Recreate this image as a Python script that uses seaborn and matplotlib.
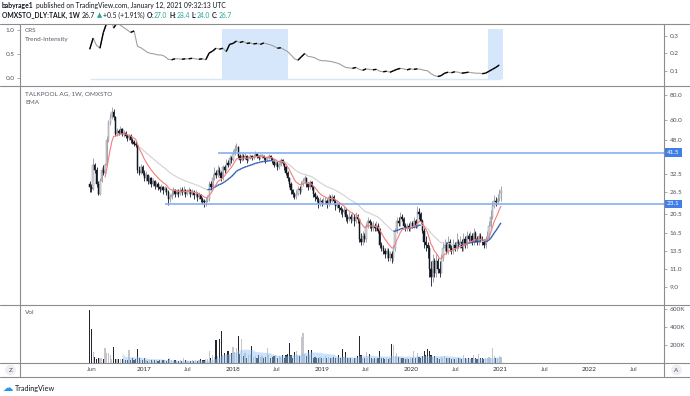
import matplotlib
matplotlib.use("Agg")
import matplotlib.pyplot as plt
import matplotlib.dates as mdates
from matplotlib.collections import LineCollection
from matplotlib.lines import Line2D
from matplotlib.ticker import NullLocator
import seaborn as sns
import pandas as pd
import numpy as np

W, H = 690, 396

# weekly bars, TALKPOOL AG (OMXSTO), first bar week of 2016-05-23
first_week = "2016-05-23"
first_open = 29.0
closes = [28, 27.5, 36, 34, 29, 26, 30, 34, 33, 36,
          48, 58, 62, 66, 62, 51, 53, 52, 54, 51,
          52, 50, 49, 50, 48, 47, 46, 45, 34, 33,
          35, 33, 31, 32, 30, 31, 29, 30, 28.5, 29,
          28, 27.5, 28, 27, 27.5, 26.5, 24.5, 25, 26, 27,
          26, 26.5, 26, 27, 26.5, 27, 26, 26.5, 27, 26,
          26.5, 25.5, 26, 25, 25.5, 24.5, 24, 23.5, 24, 24.5,
          29, 28, 31, 33, 32, 34, 33, 31, 35, 34,
          37, 36, 39, 38, 41, 43, 44, 40, 38, 40,
          39, 40, 38, 39, 40, 39, 40, 41, 40, 39,
          40, 40, 39, 38, 39, 40, 39, 38, 36, 37,
          35, 36, 38, 37, 35, 33, 31, 29, 27, 26,
          25, 26, 27.5, 27, 29, 30, 31, 29, 28, 29.5,
          28, 26, 25, 24.5, 23, 24, 23.5, 24, 24, 23,
          25, 24, 25, 24, 22.5, 23, 22, 21.5, 21, 21.5,
          20, 19.5, 20, 19.5, 20, 19, 20, 19.5, 15.5, 15,
          16, 15.5, 18, 19, 18.5, 17.5, 18, 17.5, 18, 17,
          14.5, 14, 13.5, 13, 13.5, 12.5, 13, 12.5, 14, 17,
          19, 18.5, 20, 19.5, 18, 17.5, 18, 17.5, 18.5, 18,
          19, 18, 21, 20.5, 19, 17, 15, 14.5, 14, 11,
          10, 12, 10.5, 12, 11, 10.5, 12.5, 14, 14.5, 13.5,
          15, 14, 13.5, 14.5, 14, 15, 14.5, 15, 14, 15.5,
          14.5, 16, 15.5, 16, 15, 16.5, 15.5, 15, 16, 15.5,
          15, 14.5, 15.5, 16, 18, 20, 22.5, 24, 23.5, 24.5,
          26.2, 26.7]
highs = [30, 29, 39, 37, 35, 30, 31, 35, 36, 37,
         50, 60, 65, 70, 68, 63, 55, 54, 56, 55,
         53.5, 53, 51, 51.5, 51, 49, 48, 47.5, 46, 35.5,
         36.5, 36, 34, 33.5, 32.5, 32, 31.5, 31, 30.5, 30,
         29.5, 28.5, 29, 28.5, 28.5, 28, 27, 26, 27, 28,
         27.5, 27.5, 27.5, 28, 28, 28.5, 27.5, 27.5, 28, 27.5,
         27.5, 27, 27, 26.5, 26.5, 26, 25, 24.5, 25, 25.5,
         30, 30, 32.5, 35, 34, 36, 35, 33.5, 36, 36,
         38.5, 38, 40.5, 40, 42.5, 45, 46.5, 44.5, 41, 41.5,
         41, 41.5, 40.5, 40, 41, 40.5, 41, 42, 41.5, 40.5,
         41, 41, 40.5, 39.5, 40, 41, 40.5, 39.5, 38.5, 38,
         37.5, 37, 39, 38.5, 37.5, 35.5, 33.5, 31.5, 29.5, 27.5,
         26.5, 27, 28.5, 28.5, 30, 31, 32, 31.5, 29.5, 30.5,
         30, 28.5, 26.5, 25.5, 25, 25, 24.5, 25, 25, 24.5,
         26, 25.5, 26, 25.5, 24.5, 24, 23.5, 22.5, 22, 22.5,
         22, 20.5, 21, 20.5, 21, 20.5, 21, 20.5, 19.5, 16.5,
         17, 16.5, 18.5, 20, 19.5, 19, 19, 18.5, 19, 18.5,
         17.5, 15, 14.5, 14, 14, 14, 13.5, 13.5, 14.5, 17.5,
         20, 20, 21, 20.5, 20, 18.5, 18.5, 18.5, 19, 19,
         20, 19.5, 22.5, 22, 21, 19.5, 17.5, 16, 15, 14.5,
         12, 13, 12.5, 13, 12.5, 12, 13, 15, 15.5, 15,
         16, 15.5, 14.5, 15.5, 15, 16.5, 15.5, 16, 15.5, 16.5,
         16, 17, 16.5, 17, 16.5, 17.5, 17, 16, 16.5, 16.5,
         16, 15.5, 16, 17, 19, 21.5, 24, 25.5, 25, 26,
         27.5, 28.4]
lows = [26.5, 26.5, 27, 33, 28, 25.5, 25.5, 29.5, 32, 32.5,
        35.5, 47, 57, 61, 60, 50, 50, 50.5, 51, 50,
        49.5, 49, 47.5, 48, 46.5, 45.5, 44.5, 44, 33, 32,
        32.5, 32, 30, 30, 29, 29.5, 28, 28.5, 27.5, 28,
        27, 26.5, 27, 26, 26.5, 25.5, 22.7, 23.5, 24.5, 25.5,
        25, 25.5, 25, 25.5, 25.5, 26, 25, 25.5, 26, 25,
        25.5, 24.5, 25, 24, 24.5, 23.5, 23, 22.3, 22.5, 23.5,
        24, 27, 27.5, 30.5, 31, 31.5, 32, 30, 30.5, 33,
        33.5, 35, 35.5, 37, 37.5, 40.5, 42, 39, 37, 37.5,
        38, 38.5, 37, 37.5, 38.5, 38, 38.5, 39.5, 39, 38,
        38.5, 39, 38, 37, 37.5, 38.5, 38, 37, 35, 35.5,
        34, 34.5, 35.5, 36, 34, 32, 30, 28, 26, 25,
        24.5, 24.5, 25.5, 26, 26.5, 28.5, 29.5, 28, 27, 27.5,
        27, 25, 24, 23.5, 22, 22.5, 22.5, 23, 23, 22,
        22.5, 23, 23.5, 23, 21.5, 22, 21, 20.5, 20, 20.5,
        19, 18.5, 19, 18.5, 19, 18, 18.5, 18.5, 15, 14.5,
        14.5, 15, 15, 17.5, 17.5, 17, 17, 17, 17, 16.5,
        14, 13.5, 13, 12.5, 12.5, 12, 12, 11.8, 12, 13.5,
        16.5, 18, 18, 19, 17.5, 17, 17, 17, 17, 17.5,
        17.5, 17.5, 17.5, 19.5, 18.5, 16.5, 14, 13.5, 12.5, 10,
        9.1, 9.5, 10, 10, 10.5, 10, 10.5, 12, 13.5, 13,
        13, 13.5, 13, 13, 13.5, 13.5, 14, 14, 13.5, 13.5,
        14, 14, 15, 15, 14.5, 14.5, 15, 14.5, 14.5, 15,
        14.5, 14, 14, 15, 15.5, 17.5, 19.5, 22, 22.5, 23,
        24, 24.0]
volume_k = [585, 377, 125, 70, 45, 50, 50, 60, 40, 170,
            115, 115, 90, 40, 180, 40, 40, 40, 40, 40,
            40, 35, 30, 140, 35, 60, 30, 40, 150, 60,
            35, 30, 60, 30, 25, 35, 30, 25, 30, 35,
            25, 30, 25, 35, 30, 25, 40, 60, 30, 25,
            30, 25, 20, 30, 25, 60, 30, 25, 20, 25,
            30, 25, 35, 25, 30, 40, 35, 30, 40, 45,
            130, 60, 90, 70, 260, 80, 270, 355, 90, 110,
            100, 130, 90, 110, 180, 120, 170, 295, 100, 270,
            80, 110, 60, 90, 100, 190, 70, 80, 60, 90,
            70, 80, 60, 70, 170, 90, 60, 70, 80, 90,
            60, 80, 70, 90, 60, 90, 100, 225, 90, 60,
            120, 130, 90, 80, 290, 337, 100, 80, 140, 90,
            140, 60, 70, 50, 60, 70, 50, 60, 80, 50,
            70, 60, 50, 70, 60, 50, 90, 60, 150, 70,
            125, 60, 50, 60, 45, 50, 60, 80, 300, 90,
            60, 50, 120, 60, 100, 50, 40, 50, 45, 60,
            137, 60, 50, 40, 60, 45, 50, 213, 195, 80,
            115, 70, 60, 50, 60, 45, 50, 40, 60, 50,
            137, 60, 115, 70, 60, 80, 130, 90, 150, 130,
            90, 70, 80, 60, 50, 40, 70, 60, 80, 50,
            60, 50, 40, 50, 45, 40, 50, 60, 45, 90,
            50, 40, 60, 45, 50, 85, 50, 40, 100, 60,
            50, 40, 60, 50, 70, 60, 170, 80, 60, 50,
            80, 70]
# CRS trend intensity, one value every second week
crs = [0.60, 0.83, 0.68, 0.62, 0.95, 1.15, 1.30, 1.04, 1.15, 1.10,
       1.05, 1.00, 0.95, 0.98, 0.66, 0.63, 0.58, 0.53, 0.51, 0.50,
       0.48, 0.48, 0.45, 0.39, 0.38, 0.40, 0.40, 0.39, 0.40, 0.40,
       0.41, 0.40, 0.39, 0.40, 0.38, 0.52, 0.56, 0.62, 0.60, 0.62,
       0.55, 0.70, 0.72, 0.77, 0.74, 0.76, 0.72, 0.73, 0.71, 0.72,
       0.70, 0.73, 0.71, 0.69, 0.66, 0.62, 0.63, 0.59, 0.55, 0.48,
       0.40, 0.37, 0.44, 0.51, 0.45, 0.44, 0.42, 0.38, 0.36, 0.36,
       0.35, 0.34, 0.32, 0.30, 0.26, 0.22, 0.21, 0.20, 0.22, 0.18,
       0.16, 0.19, 0.18, 0.17, 0.18, 0.14, 0.13, 0.14, 0.12, 0.15,
       0.18, 0.20, 0.19, 0.17, 0.19, 0.18, 0.19, 0.18, 0.16, 0.15,
       0.09, 0.05, 0.03, 0.05, 0.10, 0.12, 0.11, 0.13, 0.12, 0.10,
       0.11, 0.12, 0.11, 0.10, 0.10, 0.09, 0.10, 0.14, 0.18, 0.22,
       0.27]
trend_zones = [("2017-11-17", "2018-08-15"), ("2020-11-13", "2021-01-11")]
levels = [41.5, 23.1]
level_starts = ["2017-10-31", "2017-03-28"]
price_ticks = [80.0, 60.0, 48.0, 32.5, 26.5, 20.5, 16.5, 13.5, 11.0, 9.0]
crs_left_ticks = [0.0, 0.5, 1.0]
crs_right_ticks = [0.1, 0.2, 0.3]
vol_ticks = [200, 400, 600]
month_ticks = ["2016-06-01", "2017-01-01", "2017-07-01", "2018-01-01", "2018-07-01",
               "2019-01-01", "2019-07-01", "2020-01-01", "2020-07-01", "2021-01-01",
               "2021-07-01", "2022-01-01", "2022-07-01"]
month_labels = ["Jun", "2017", "Jul", "2018", "Jul", "2019", "Jul", "2020", "Jul",
                "2021", "Jul", "2022", "Jul"]

assert len(closes) == len(highs) == len(lows) == len(volume_k), (len(closes), len(highs), len(lows), len(volume_k))


def ema(vals, n):
    out = np.full(len(vals), np.nan)
    out[n - 1] = np.mean(vals[:n])
    a = 2.0 / (n + 1)
    for i in range(n, len(vals)):
        out[i] = a * vals[i] + (1 - a) * out[i - 1]
    return out


def px_rect(x0, y0, x1, y1):
    return [x0 / W, 1 - y1 / H, (x1 - x0) / W, (y1 - y0) / H]


dates = pd.date_range(first_week, periods=len(closes), freq="7D")
x = mdates.date2num(dates)
c = np.array(closes, float)
o = np.array([first_open] + closes[:-1], float)
hi = np.array(highs, float)
lo = np.array(lows, float)
vol = np.array(volume_k, float) * 1000
up = c >= o

sns.set_theme(style="white")
plt.rcParams["font.family"] = ["Lato", "DejaVu Sans"]
FS = 4.6
TXT = "#4c525e"

fig = plt.figure(figsize=(W / 100, H / 100), dpi=100)
fig.patch.set_facecolor("white")
ax_top = fig.add_axes(px_rect(20, 24, 664, 86))
ax_main = fig.add_axes(px_rect(20, 86, 664, 305))
ax_vol = fig.add_axes(px_rect(20, 305, 664, 363))

xmin = mdates.date2num(pd.Timestamp("2015-08-11"))
xmax = mdates.date2num(pd.Timestamp("2022-11-04"))

# ---- top: CRS trend intensity
for a, b in trend_zones:
    ax_top.fill_between(mdates.date2num(pd.to_datetime([a, b])), -0.02, 1.02,
                        color="#d6e7fb", lw=0, zorder=1)
ax_top.hlines(-0.02, x[0], x[-1], color="#d6e7fb", lw=1, zorder=1)
crs_x = x[::2][:len(crs)]
crs_df = pd.DataFrame({"date": dates[::2][:len(crs)], "crs": crs})
sns.lineplot(data=crs_df, x="date", y="crs", ax=ax_top, color="#a0a0a0", lw=0.8, zorder=2)
crs_a = np.array(crs)
segs = [[(crs_x[i], crs_a[i]), (crs_x[i + 1], crs_a[i + 1])]
        for i in range(len(crs_a) - 1) if crs_a[i + 1] > crs_a[i]]
ax_top.add_collection(LineCollection(segs, colors="black", linewidths=1.0, zorder=3))
ax_top.set_ylim(-0.167, 1.125)
ax_top.set_yticks(crs_left_ticks)
ax_top.set_yticklabels([f"{v:.1f}" for v in crs_left_ticks])
ax_top.tick_params(axis="y", left=True, length=2.5, width=0.5, color="#888", pad=1.5,
                   labelsize=FS, labelcolor=TXT)
ax_r = ax_top.twinx()
ax_r.set_ylim(0.015, 0.366)
ax_r.set_yticks(crs_right_ticks)
ax_r.set_yticklabels([f"{v:.1f}" for v in crs_right_ticks])
ax_r.tick_params(axis="y", right=True, length=2.5, width=0.5, color="#888", pad=1.5,
                 labelsize=FS, labelcolor=TXT)

# ---- main: candles + EMAs + levels
ax_main.set_yscale("log")
for m, wc, fc in ((up, "#9598a1", "#d6d8de"), (~up, "#131722", "#131722")):
    ax_main.vlines(x[m], lo[m], hi[m], color=wc, lw=0.6, zorder=2)
    bot = np.minimum(o[m], c[m])
    ht = np.maximum(np.abs(c[m] - o[m]), bot * 0.01)
    ax_main.bar(x[m], ht, bottom=bot, width=5.3, color=fc, edgecolor=wc, lw=0.35, zorder=2)

ema10 = ema(c, 10)
ema30 = ema(c, 30)
sns.lineplot(x=dates[9:], y=ema10[9:], ax=ax_main, color="#f47c7c", lw=0.8, zorder=4)
segs_up, segs_dn = [], []
for i in range(29, len(c) - 1):
    s = [(x[i], ema30[i]), (x[i + 1], ema30[i + 1])]
    (segs_up if ema30[i + 1] > ema30[i] else segs_dn).append(s)
ax_main.add_collection(LineCollection(segs_dn, colors="#cfcfcf", linewidths=0.8, zorder=3))
ax_main.add_collection(LineCollection(segs_up, colors="#2f5fb5", linewidths=1.0, zorder=3))

for lv, st in zip(levels, level_starts):
    ax_main.hlines(lv, mdates.date2num(pd.Timestamp(st)), xmax, color="#86aef2", lw=1.2, zorder=3)
    ax_main.annotate(f"{lv:.1f}", xy=(1, lv), xycoords=("axes fraction", "data"),
                     xytext=(2.2, 0), textcoords="offset points", ha="left", va="center",
                     fontsize=FS, color="white", annotation_clip=False, zorder=6,
                     bbox=dict(boxstyle="square,pad=0.3", fc="#3f7fe6", ec="none"))

ax_main.set_ylim(7.30, 88.6)
ax_main.yaxis.set_minor_locator(NullLocator())
ax_main.set_yticks(price_ticks)
ax_main.set_yticklabels([f"{v:.1f}" for v in price_ticks])
ax_main.yaxis.tick_right()
ax_main.tick_params(axis="y", right=True, left=False, length=2.5, width=0.5, color="#888",
                    pad=1.5, labelsize=FS, labelcolor=TXT)

# ---- volume
ax_vol.bar(x[up], vol[up], width=4.8, color="#c4c6cc", lw=0, zorder=2)
ax_vol.bar(x[~up], vol[~up], width=4.8, color="#22262f", lw=0, zorder=2)
vol_ma = pd.Series(vol).rolling(20).mean().to_numpy()
ax_vol.fill_between(x, 0, vol_ma, color="#8fc0f4", alpha=0.45, lw=0, zorder=3)
ax_vol.set_ylim(0, 644000)
ax_vol.set_yticks([v * 1000 for v in vol_ticks])
ax_vol.set_yticklabels([f"{v}K" for v in vol_ticks])
ax_vol.yaxis.tick_right()
ax_vol.tick_params(axis="y", right=True, left=False, length=2.5, width=0.5, color="#888",
                   pad=1.5, labelsize=FS, labelcolor=TXT)
ax_vol.set_xticks(mdates.date2num(pd.to_datetime(month_ticks)))
ax_vol.set_xticklabels(month_labels)
ax_vol.tick_params(axis="x", bottom=True, length=0, pad=3.2, labelsize=FS, labelcolor=TXT)
for lab in ax_vol.get_xticklabels():
    if lab.get_text().isdigit():
        lab.set_color("#2a2e39")

for ax in (ax_top, ax_r, ax_main, ax_vol):
    ax.set_facecolor("none")
    for sp in ax.spines.values():
        sp.set_visible(False)
    ax.set_xlim(xmin, xmax)
    ax.set_xlabel("")
    ax.set_ylabel("")
    ax.grid(False)
for ax in (ax_top, ax_r, ax_main):
    ax.set_xticks([])

# ---- frame lines
LC = "#8c8c8c"
for yy in (24, 86, 305, 363, 377):
    fig.add_artist(Line2D([0, 1], [1 - yy / H] * 2, transform=fig.transFigure, color=LC, lw=0.8))
for xx in (20, 664):
    fig.add_artist(Line2D([xx / W] * 2, [1 - 24 / H, 1 - 377 / H], transform=fig.transFigure,
                          color=LC, lw=0.8))

# ---- panel captions
def ftxt(xp, yp, s, **kw):
    kw.setdefault("fontsize", FS)
    kw.setdefault("color", "#555a64")
    return fig.text(xp / W, 1 - yp / H, s, va="center", ha="left", **kw)

ftxt(25, 31, "CRS")
ftxt(25, 39.5, "Trend-Intensity")
ftxt(25, 94, "TALKPOOL AG, 1W, OMXSTO")
ftxt(25, 102.5, "EMA")
ftxt(25, 313, "Vol")

for xp, s in ((10.5, "Z"), (676.5, "A")):
    fig.text(xp / W, 1 - 370 / H, s, ha="center", va="center", fontsize=FS, color="#4c525e",
             bbox=dict(boxstyle="circle,pad=0.45", fc="#eceef2", ec="none"))

ftxt(2, 388, "\u2601", fontsize=7.5, color="#2196f3", family=["DejaVu Sans"])
ftxt(15, 388, "TradingView", fontsize=5.2, color="#131722")

# ---- header lines drawn piece by piece
renderer = fig.canvas.get_renderer()


def seq(xp, yp, parts, size=4.9):
    for s, col, wt, gap in parts:
        t = fig.text(xp / W, 1 - yp / H, s, color=col, fontweight=wt, fontsize=size,
                     va="center", ha="left")
        xp += t.get_window_extent(renderer).width + gap


DK = "#131722"
TEAL = "#26a69a"
seq(2, 5.5, [("babyrage1", DK, "bold", 2),
             ("published on TradingView.com, January 12, 2021 09:32:13 UTC", DK, "normal", 0)])
seq(2, 15, [("OMXSTO_DLY:TALK, 1W", DK, "bold", 2),
            ("26.7", DK, "normal", 1.5),
            ("\u25b2", TEAL, "normal", 1.5),
            ("+0.5 (+1.91%)", DK, "normal", 2),
            ("O:", DK, "bold", 0), ("27.0", TEAL, "normal", 2),
            ("H:", DK, "bold", 0), ("28.4", TEAL, "normal", 2),
            ("L:", DK, "bold", 0), ("24.0", TEAL, "normal", 2),
            ("C:", DK, "bold", 0), ("26.7", TEAL, "normal", 0)])

fig.savefig("out.png", dpi=100, facecolor="white")
